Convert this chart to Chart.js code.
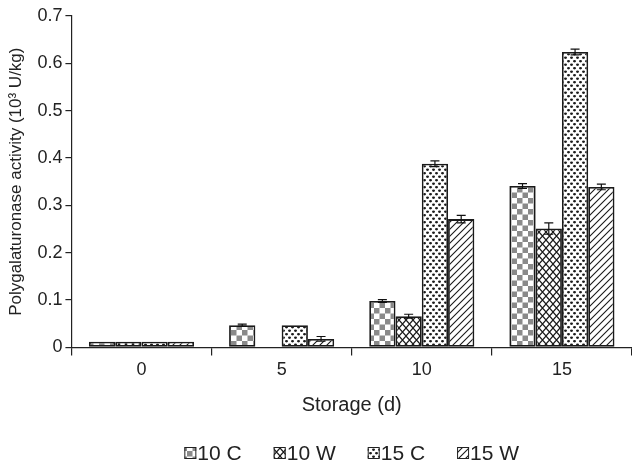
<!DOCTYPE html>
<html>
<head>
<meta charset="utf-8">
<script src="https://cdn.jsdelivr.net/npm/chart.js@4/dist/chart.umd.min.js"></script>
<style>
html,body{margin:0;padding:0;background:#fff;}
#wrap{width:632px;height:466px;}
</style>
</head>
<body>
<div id="wrap"><canvas id="c" width="632" height="466"></canvas></div>
<script>
const categories = ['0', '5', '10', '15'];
const seriesNames = ['10 C', '10 W', '15 C', '15 W'];
const c10 = [0.012, 0.047, 0.098, 0.341];
const w10 = [0.012, null, 0.066, 0.251];
const c15 = [0.012, 0.047, 0.388, 0.624];
const w15 = [0.012, 0.018, 0.271, 0.339];
const c10Err = [0, 0.002, 0.003, 0.005];
const w10Err = [0, 0, 0.004, 0.012];
const c15Err = [0, 0, 0.006, 0.006];
const w15Err = [0, 0.005, 0.008, 0.006];
const yTicks = [0, 0.1, 0.2, 0.3, 0.4, 0.5, 0.6, 0.7];

const FONT = '"Liberation Sans", Arial, sans-serif';

function mk(w, h, draw) {
  const cv = document.createElement('canvas');
  cv.width = w; cv.height = h;
  const g = cv.getContext('2d');
  g.fillStyle = '#fff'; g.fillRect(0, 0, w, h);
  draw(g);
  return document.getElementById('c').getContext('2d').createPattern(cv, 'repeat');
}
const patChecker = mk(11, 11, g => {
  g.fillStyle = '#8a8a8a';
  g.fillRect(0, 0, 5.5, 5.5); g.fillRect(5.5, 5.5, 5.5, 5.5);
});
const patCross = mk(7, 8, g => {
  g.strokeStyle = '#1a1a1a'; g.lineWidth = 1.3;
  g.beginPath();
  g.moveTo(-0.5, -0.5); g.lineTo(7.5, 8.5);
  g.moveTo(-0.5, 8.5); g.lineTo(7.5, -0.5);
  g.stroke();
});
const patDots = mk(6, 7, g => {
  g.fillStyle = '#1a1a1a';
  g.beginPath(); g.ellipse(1.5, 1.75, 1.5, 1.15, 0, 0, Math.PI * 2); g.fill();
  g.beginPath(); g.ellipse(4.5, 5.25, 1.5, 1.15, 0, 0, Math.PI * 2); g.fill();
});
const patDiag = mk(7, 7, g => {
  g.strokeStyle = '#1a1a1a'; g.lineWidth = 1.1;
  g.beginPath();
  g.moveTo(-1, 8); g.lineTo(8, -1);
  g.moveTo(-1, 1); g.lineTo(1, -1);
  g.moveTo(6, 8); g.lineTo(8, 6);
  g.stroke();
});

const values = [c10, w10, c15, w15];
const errs = [c10Err, w10Err, c15Err, w15Err];
const pats = [patChecker, patCross, patDots, patDiag];

const errorBars = {
  id: 'errorBars',
  afterDatasetsDraw(chart) {
    const ctx = chart.ctx;
    const y = chart.scales.y;
    ctx.save();
    ctx.strokeStyle = '#111';
    ctx.lineWidth = 1.2;
    chart.data.datasets.forEach((ds, i) => {
      const meta = chart.getDatasetMeta(i);
      meta.data.forEach((bar, j) => {
        const v = ds.data[j], e = errs[i][j];
        if (v == null || !e) return;
        const top = y.getPixelForValue(v + e), bot = y.getPixelForValue(v - e);
        const x = bar.x, cw = 4.5;
        ctx.beginPath();
        ctx.moveTo(x, top); ctx.lineTo(x, bot);
        ctx.moveTo(x - cw, top); ctx.lineTo(x + cw, top);
        ctx.moveTo(x - cw, bot); ctx.lineTo(x + cw, bot);
        ctx.stroke();
      });
    });
    ctx.restore();
  }
};

const customLegend = {
  id: 'customLegend',
  afterDraw(chart) {
    const ctx = chart.ctx;
    const area = chart.chartArea;
    ctx.save();
    ctx.font = '21px ' + FONT;
    ctx.textBaseline = 'middle';
    const box = 12, gapText = 1, gapItem = 32;
    const widths = chart.data.datasets.map(ds => box + gapText + ctx.measureText(ds.label).width);
    const total = widths.reduce((a, b) => a + b, 0) + gapItem * (widths.length - 1);
    let x = (area.left + area.right) / 2 - total / 2;
    const yc = 453;
    chart.data.datasets.forEach((ds, i) => {
      ctx.fillStyle = ds.backgroundColor;
      ctx.fillRect(x, yc - box / 2, box, box);
      ctx.strokeStyle = '#222'; ctx.lineWidth = 1;
      ctx.strokeRect(x + 0.5, yc - box / 2 + 0.5, box - 1, box - 1);
      ctx.fillStyle = '#222';
      ctx.fillText(ds.label, x + box + gapText, yc + 1);
      x += widths[i] + gapItem;
    });
    ctx.restore();
  }
};

Chart.defaults.font.family = FONT;
Chart.defaults.color = '#222';

new Chart(document.getElementById('c'), {
  type: 'bar',
  data: {
    labels: categories,
    datasets: seriesNames.map((n, i) => ({
      label: n,
      data: values[i],
      backgroundColor: pats[i],
      borderColor: '#1a1a1a',
      borderWidth: 1.8,
      borderSkipped: false,
      categoryPercentage: 0.75,
      barPercentage: 1.0
    }))
  },
  options: {
    responsive: false,
    animation: false,
    layout: { padding: { top: 16, right: 0, left: 6, bottom: 49 } },
    plugins: {
      tooltip: { enabled: false },
      legend: { display: false }
    },
    scales: {
      x: {
        grid: { drawOnChartArea: false, offset: true, color: '#222', tickLength: 8, lineWidth: 1.2 },
        border: { color: '#222', width: 1.2 },
        ticks: { font: { size: 18 }, color: '#222', padding: 4 },
        title: { display: true, text: 'Storage (d)', font: { size: 20 }, color: '#222', padding: { top: 8, bottom: 0 } }
      },
      y: {
        min: 0, max: 0.7,
        afterBuildTicks(ax) { ax.ticks = yTicks.map(v => ({ value: v })); },
        grid: { drawOnChartArea: false, color: '#222', tickLength: 6, lineWidth: 1.2 },
        border: { color: '#222', width: 1.2 },
        ticks: { font: { size: 18 }, color: '#222', padding: 3, callback: v => String(+v.toFixed(1)) },
        title: { display: true, text: 'Polygalaturonase activity (10³ U/kg)', font: { size: 17 }, color: '#222', padding: { top: 0, bottom: 8 } }
      }
    }
  },
  plugins: [errorBars, customLegend]
});
</script>
</body>
</html>
